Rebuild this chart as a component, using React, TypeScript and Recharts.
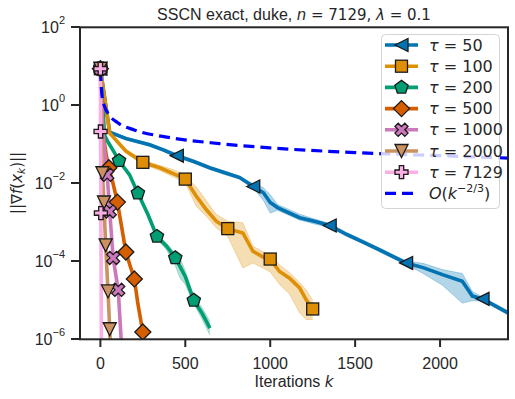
import { ComposedChart, Line, Area, XAxis, YAxis } from 'recharts';

// rows: [k, log10 mean, log10 low, log10 high]
const tau50 = [
  [0, 0.93, 0.93, 0.93],
  [55, -0.7, -0.72, -0.68],
  [150, -0.86, -0.89, -0.83],
  [290, -1.02, -1.06, -0.98],
  [370, -1.15, -1.19, -1.11],
  [450, -1.3, -1.34, -1.25],
  [550, -1.45, -1.49, -1.41],
  [643, -1.61, -1.65, -1.57],
  [720, -1.72, -1.77, -1.68],
  [820, -1.86, -1.9, -1.82],
  [900, -2.09, -2.12, -2.02],
  [960, -2.25, -2.45, -2.12],
  [1000, -2.5, -2.77, -2.3],
  [1043, -2.63, -2.7, -2.55],
  [1173, -2.89, -2.95, -2.8],
  [1260, -2.98, -3.05, -2.92],
  [1350, -3.09, -3.14, -3.04],
  [1450, -3.32, -3.37, -3.27],
  [1550, -3.52, -3.56, -3.47],
  [1650, -3.73, -3.78, -3.68],
  [1800, -4.05, -4.09, -4.0],
  [1900, -4.17, -4.32, -4.06],
  [2014, -4.35, -4.62, -4.22],
  [2131, -4.52, -5.08, -4.32],
  [2190, -4.9, -5.02, -4.78],
  [2250, -4.97, -5.02, -4.92],
  [2400, -5.33, -5.38, -5.28],
];
const tau50Marks = [0, 450, 900, 1350, 1800, 2250];

const tau100 = [
  [0, 0.93, 0.93, 0.93],
  [55, -0.72, -0.74, -0.7],
  [150, -1.18, -1.22, -1.14],
  [250, -1.47, -1.52, -1.42],
  [350, -1.61, -1.68, -1.55],
  [446, -1.79, -1.88, -1.68],
  [500, -1.9, -2.0, -1.82],
  [565, -2.34, -2.6, -2.1],
  [623, -2.68, -2.85, -2.45],
  [682, -2.98, -3.15, -2.8],
  [750, -3.17, -3.37, -2.98],
  [839, -3.28, -4.18, -3.02],
  [898, -3.75, -4.05, -3.62],
  [966, -3.92, -4.2, -3.78],
  [1000, -3.95, -4.28, -3.82],
  [1055, -4.27, -4.6, -4.1],
  [1114, -4.44, -4.85, -4.3],
  [1173, -4.69, -5.33, -4.55],
  [1211, -4.99, -5.5, -4.74],
  [1250, -5.23, -5.5, -5.0],
];
const tau100Marks = [0, 250, 500, 750, 1000, 1250];

const tau200 = [
  [0, 0.93, 0.93, 0.93],
  [25, -0.78, -0.8, -0.76],
  [45, -0.95, -0.98, -0.92],
  [80, -1.2, -1.24, -1.16],
  [110, -1.43, -1.47, -1.39],
  [172, -1.79, -1.84, -1.74],
  [221, -2.26, -2.31, -2.21],
  [280, -2.81, -2.87, -2.75],
  [333, -3.37, -3.43, -3.31],
  [390, -3.62, -3.72, -3.55],
  [441, -3.92, -4.12, -3.8],
  [470, -4.15, -4.45, -3.95],
  [500, -4.4, -4.6, -4.25],
  [550, -5.01, -5.1, -4.92],
  [600, -5.35, -5.5, -5.2],
  [645, -5.72, -5.9, -5.55],
];
const tau200Marks = [0, 110, 221, 333, 441, 550];

const tau500 = [
  [0, 0.93], [15, -0.72], [35, -1.3], [50, -1.61], [75, -2.02], [100, -2.49],
  [125, -3.12], [150, -3.77], [175, -4.12], [200, -4.46], [221, -5.1], [250, -5.82],
];
const tau500Marks = [0, 50, 100, 150, 200, 250];

const tau1000 = [
  [0, 0.93], [15, -0.75], [40, -1.79], [55, -2.73], [75, -3.92], [105, -4.74], [125, -6.2],
];
const tau1000Marks = [0, 40, 55, 75, 105];

const tau2000 = [
  [0, 0.93], [6, -0.75], [12, -1.75], [21, -2.5], [31, -3.6], [45, -4.78], [55, -5.75], [60, -6.3],
];
const tau2000Marks = [0, 12, 21, 31, 45, 55];

const tau7129 = [[0, 0.93], [1, -0.68], [3, -2.77], [6, -6.3]];
const tau7129Marks = [0, 1, 3];

const rateK = [0, 10, 25, 50, 100, 200, 400, 700, 1000, 1500, 2000, 2400];
const rateLog = [0.9, 0.22, -0.04, -0.25, -0.45, -0.64, -0.83, -0.99, -1.1, -1.22, -1.3, -1.36];

const xTicks = [0, 500, 1000, 1500, 2000];
const yTicks = [1e-6, 1e-4, 1e-2, 1, 100];

const INK = '#262626';
const SANS = 'Liberation Sans, Arial, sans-serif';
const MATH = 'DejaVu Sans';

const series = [
  { label: '50', rows: tau50, marks: tau50Marks, color: '#0173b2', shape: 'tl' },
  { label: '100', rows: tau100, marks: tau100Marks, color: '#de8f05', shape: 'sq' },
  { label: '200', rows: tau200, marks: tau200Marks, color: '#029e73', shape: 'pent' },
  { label: '500', rows: tau500, marks: tau500Marks, color: '#d55e00', shape: 'dia' },
  { label: '1000', rows: tau1000, marks: tau1000Marks, color: '#cc78bc', shape: 'x' },
  { label: '2000', rows: tau2000, marks: tau2000Marks, color: '#ca9161', shape: 'tv' },
  { label: '7129', rows: tau7129, marks: tau7129Marks, color: '#fbafe4', shape: 'plus' },
];

const build = (rows: number[][], marks: number[]) =>
  rows.map((r) => ({
    k: r[0],
    y: 10 ** r[1],
    band: r.length > 2 ? [10 ** r[2], 10 ** r[3]] : [10 ** r[1], 10 ** r[1]],
    mark: marks.includes(r[0]),
  }));

const rateData = rateK.map((k, i) => ({ k, y: 10 ** rateLog[i] }));

function plusPts(cx: number, cy: number, L: number, w: number, rot: number) {
  const base = [
    [-w, -L], [w, -L], [w, -w], [L, -w], [L, w], [w, w], [w, L], [-w, L], [-w, w], [-L, w], [-L, -w], [-w, -w],
  ];
  const c = Math.cos(rot), s = Math.sin(rot);
  return base.map(([x, y]) => `${cx + x * c - y * s},${cy + x * s + y * c}`).join(' ');
}

function Marker({ shape, cx, cy, fill }: { shape: string; cx: number; cy: number; fill: string }) {
  const common = { fill, stroke: '#1a1a1a', strokeWidth: 1.3, strokeLinejoin: 'miter' as const };
  const r = 6.5;
  switch (shape) {
    case 'tl':
      return <polygon {...common} points={`${cx - r},${cy} ${cx + r},${cy - r} ${cx + r},${cy + r}`} />;
    case 'sq':
      return <rect {...common} x={cx - 6} y={cy - 6} width={12} height={12} />;
    case 'pent': {
      const pts = [0, 1, 2, 3, 4]
        .map((i) => {
          const a = -Math.PI / 2 + (i * 2 * Math.PI) / 5;
          return `${cx + 7 * Math.cos(a)},${cy + 7 * Math.sin(a)}`;
        })
        .join(' ');
      return <polygon {...common} points={pts} />;
    }
    case 'dia':
      return <polygon {...common} points={`${cx},${cy - 8} ${cx + 8},${cy} ${cx},${cy + 8} ${cx - 8},${cy}`} />;
    case 'x':
      return <polygon {...common} points={plusPts(cx, cy, 7, 2.3, Math.PI / 4)} />;
    case 'tv':
      return <polygon {...common} points={`${cx - r},${cy - r} ${cx + r},${cy - r} ${cx},${cy + r}`} />;
    case 'plus':
      return <polygon {...common} points={plusPts(cx, cy, 6.5, 2.2, 0)} />;
    default:
      return null;
  }
}

const YTick = ({ y, payload }: any) => {
  const e = Math.round(Math.log10(payload.value));
  return (
    <text x={65} y={y + 6} textAnchor="end" fontSize={16} fill={INK} fontFamily={SANS}>
      10
      <tspan dy={-9} fontSize={11}>{e < 0 ? `\u2212${-e}` : `${e}`}</tspan>
    </text>
  );
};

const XTick = ({ x, payload }: any) => (
  <text x={x} y={369} textAnchor="middle" fontSize={16} fill={INK} fontFamily={SANS}>
    {payload.value}
  </text>
);

export default function App() {
  return (
    <div style={{ position: 'absolute', left: 0, top: 0, width: 515, height: 399, background: '#fff', fontFamily: SANS }}>
      <ComposedChart width={515} height={399} margin={{ top: 27, right: 7, bottom: 0, left: 0 }}>
        <XAxis
          type="number"
          dataKey="k"
          domain={[-120, 2400]}
          ticks={xTicks}
          allowDataOverflow
          height={60}
          axisLine={false}
          tickSize={8}
          tickLine={{ stroke: INK, strokeWidth: 2 }}
          tick={<XTick />}
        />
        <YAxis
          type="number"
          scale="log"
          domain={[1e-6, 100]}
          ticks={yTicks}
          allowDataOverflow
          width={80}
          axisLine={false}
          tickSize={9}
          tickLine={{ stroke: INK, strokeWidth: 2 }}
          tick={<YTick />}
        />
        {series.map((s) =>
          s.rows[0].length > 2 ? (
            <Area
              key={`band-${s.label}`}
              data={build(s.rows, s.marks)}
              dataKey="band"
              type="linear"
              stroke={s.color}
              strokeOpacity={0.35}
              strokeWidth={0.8}
              fill={s.color}
              fillOpacity={0.3}
              isAnimationActive={false}
              activeDot={false}
            />
          ) : null
        )}
        {series.map((s) => (
          <Line
            key={`line-${s.label}`}
            data={build(s.rows, s.marks)}
            dataKey="y"
            type="linear"
            stroke={s.color}
            strokeWidth={3.6}
            isAnimationActive={false}
            activeDot={false}
            dot={(p: any) =>
              p.payload && p.payload.mark ? (
                <g key={`m-${s.label}-${p.index}`}>
                  <Marker shape={s.shape} cx={p.cx} cy={p.cy} fill={s.color} />
                </g>
              ) : (
                <g key={`m-${s.label}-${p.index}`} />
              )
            }
          />
        ))}
        <Line
          data={rateData}
          dataKey="y"
          type="monotone"
          stroke="#0000ff"
          strokeWidth={3.2}
          strokeDasharray="11 6"
          dot={false}
          activeDot={false}
          isAnimationActive={false}
        />
      </ComposedChart>
      <svg width={515} height={399} style={{ position: 'absolute', left: 0, top: 0, pointerEvents: 'none' }} fontFamily={SANS}>
        <rect x={80} y={27.3} width={428} height={312} fill="none" stroke={INK} strokeWidth={2} />
        <text x={294} y={20} textAnchor="middle" fontSize={16} fill={INK}>
          SSCN exact, duke, <tspan fontFamily={MATH} fontSize={15} fontStyle="italic">n</tspan>
          <tspan fontFamily={MATH} fontSize={15}> = 7129, </tspan>
          <tspan fontFamily={MATH} fontSize={15} fontStyle="italic">λ</tspan>
          <tspan fontFamily={MATH} fontSize={15}> = 0.1</tspan>
        </text>
        <text x={294} y={387} textAnchor="middle" fontSize={16} fill={INK}>
          Iterations <tspan fontFamily={MATH} fontSize={15} fontStyle="italic">k</tspan>
        </text>
        <text x={0} y={0} transform="translate(22,183) rotate(-90)" textAnchor="middle" fontSize={15} fill={INK} fontFamily={MATH}>
          ||∇<tspan fontStyle="italic">f</tspan>(<tspan fontStyle="italic">x</tspan>
          <tspan fontStyle="italic" fontSize={10.5} dy={3}>k</tspan>
          <tspan dy={-3}>)||</tspan>
        </text>
        <rect x={381.5} y={34.5} width={118} height={174} rx={4} fill="#fff" fillOpacity={0.8} stroke="#d4d4d4" strokeWidth={1} />
        {series.map((s, i) => {
          const cy = 45 + i * 21.2;
          return (
            <g key={`leg-${s.label}`}>
              <line x1={385} x2={418} y1={cy} y2={cy} stroke={s.color} strokeWidth={3.6} />
              <Marker shape={s.shape} cx={401.5} cy={cy} fill={s.color} />
              <text x={429} y={cy + 5.5} fontSize={16} fill={INK} fontFamily={MATH}>
                <tspan fontStyle="italic">τ</tspan> = {s.label}
              </text>
            </g>
          );
        })}
        <line x1={385} x2={418} y1={193.4} y2={193.4} stroke="#0000ff" strokeWidth={3.2} strokeDasharray="11 6" />
        <text x={429} y={199} fontSize={16} fill={INK} fontFamily={MATH}>
          <tspan fontStyle="italic">O</tspan>(<tspan fontStyle="italic">k</tspan>
          <tspan fontSize={11} dy={-7}>{'\u22122/3'}</tspan>
          <tspan dy={7}>)</tspan>
        </text>
      </svg>
    </div>
  );
}
